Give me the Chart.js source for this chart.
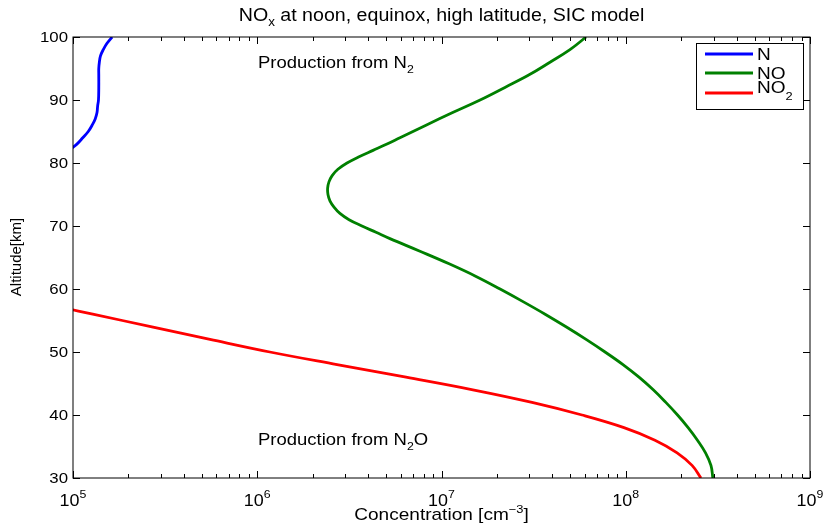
<!DOCTYPE html>
<html>
<head>
<meta charset="utf-8">
<script src="https://cdn.jsdelivr.net/npm/chart.js@4.4.1/dist/chart.umd.min.js"></script>
<style>
  body { margin: 0; background: #fff; }
  #grafico { display: block; }
</style>
</head>
<body>
<canvas id="grafico" width="827" height="524"></canvas>
<script>
// Datos: altitud [km] y concentracion [cm^-3]
const altN = [82, 83, 84, 85, 86, 87, 88, 89, 90, 92, 94, 95, 96, 97, 98, 99, 100];
const concN = [9.5e4, 1.05e5, 1.13e5, 1.21e5, 1.27e5, 1.32e5, 1.35e5, 1.36e5, 1.375e5, 1.38e5, 1.38e5, 1.38e5, 1.39e5, 1.41e5, 1.46e5, 1.53e5, 1.63e5];

const altNO = [30, 32, 34, 36, 38, 40, 42, 44, 46, 48, 50, 52, 54, 56, 58, 60, 62, 64, 66, 68, 69, 70, 71, 72, 73, 74, 75, 76, 77, 78, 79, 80, 81, 82, 83, 84, 86, 88, 90, 92, 94, 96, 98, 100];
const concNO = [2.97e8, 2.90e8, 2.71e8, 2.45e8, 2.18e8, 1.91e8, 1.65e8, 1.41e8, 1.18e8, 9.66e7, 7.72e7, 6.09e7, 4.74e7, 3.65e7, 2.77e7, 2.08e7, 1.54e7, 1.10e7, 7.64e6, 5.25e6, 4.41e6, 3.70e6, 3.15e6, 2.81e6, 2.61e6, 2.48e6, 2.42e6, 2.41e6, 2.45e6, 2.55e6, 2.74e6, 3.07e6, 3.57e6, 4.25e6, 5.06e6, 5.95e6, 8.24e6, 1.15e7, 1.62e7, 2.21e7, 2.99e7, 3.88e7, 4.98e7, 6.09e7];

const altNO2 = [30, 32, 34, 36, 38, 40, 42, 44, 46, 48, 50, 52, 54, 56, 57];
const concNO2 = [2.56e8, 2.29e8, 1.90e8, 1.44e8, 9.78e7, 5.79e7, 3.10e7, 1.48e7, 6.42e6, 2.71e6, 1.17e6, 5.54e5, 2.68e5, 1.28e5, 8.94e4];

const yTicks = [30, 40, 50, 60, 70, 80, 90, 100];
const xExpTicks = [5, 6, 7, 8, 9];

const FONT = '"Liberation Sans", Arial, Helvetica, sans-serif';
const SX = 1.12; // la figura original esta algo estirada en horizontal

// texto con partes (subindices / superindices)
function dibujarTexto(ctx, partes, x, y, align, base) {
  ctx.textBaseline = base || 'alphabetic';
  ctx.textAlign = 'left';
  let total = 0;
  partes.forEach(p => {
    ctx.font = p.size + 'px ' + FONT;
    p.w = ctx.measureText(p.t).width * SX;
    total += p.w;
  });
  let cx = x;
  if (align === 'center') cx = x - total / 2;
  if (align === 'right') cx = x - total;
  partes.forEach(p => {
    ctx.font = p.size + 'px ' + FONT;
    ctx.save();
    ctx.translate(cx, y + (p.dy || 0));
    ctx.scale(SX, 1);
    ctx.fillText(p.t, 0, 0);
    ctx.restore();
    cx += p.w;
  });
}

const decoracion = {
  id: 'decoracion',
  afterDraw(chart) {
    const ctx = chart.ctx;
    const a = chart.chartArea;
    const xs = chart.scales.x;
    const ys = chart.scales.y;
    ctx.save();
    ctx.fillStyle = '#000';
    ctx.strokeStyle = '#000';
    ctx.lineWidth = 1;

    // caja
    ctx.strokeRect(a.left, a.top, a.right - a.left, a.bottom - a.top);

    // ticks y
    yTicks.forEach(v => {
      const py = Math.round(ys.getPixelForValue(v)) + 0.5;
      ctx.beginPath();
      ctx.moveTo(a.left, py); ctx.lineTo(a.left + 7, py);
      ctx.moveTo(a.right, py); ctx.lineTo(a.right - 7, py);
      ctx.stroke();
      dibujarTexto(ctx, [{ t: String(v), size: 15 }], a.left - 5, py, 'right', 'middle');
    });

    // ticks x (mayores y menores)
    xExpTicks.forEach((e, i) => {
      for (let m = 1; m <= 9; m++) {
        if (i === xExpTicks.length - 1 && m > 1) break;
        const px = Math.round(xs.getPixelForValue(m * Math.pow(10, e))) + 0.5;
        const len = m === 1 ? 7 : 4;
        ctx.beginPath();
        ctx.moveTo(px, a.bottom); ctx.lineTo(px, a.bottom - len);
        ctx.moveTo(px, a.top); ctx.lineTo(px, a.top + len);
        ctx.stroke();
      }
      const px = xs.getPixelForValue(Math.pow(10, e));
      dibujarTexto(ctx, [{ t: '10', size: 16 }, { t: String(e), size: 11, dy: -8 }], px, 506, 'center');
    });

    // titulo y etiquetas
    const cxPlot = (a.left + a.right) / 2;
    dibujarTexto(ctx, [{ t: 'NO', size: 17.5 }, { t: 'x', size: 12, dy: 5 }, { t: ' at noon, equinox, high latitude, SIC model', size: 17.5 }], cxPlot, 21, 'center');
    dibujarTexto(ctx, [{ t: 'Concentration [cm', size: 17 }, { t: '\u22123', size: 11.5, dy: -7 }, { t: ']', size: 17 }], cxPlot, 520, 'center');

    ctx.save();
    ctx.translate(21, 257);
    ctx.rotate(-Math.PI / 2);
    ctx.font = '15px ' + FONT;
    ctx.textAlign = 'center';
    ctx.textBaseline = 'alphabetic';
    ctx.fillText('Altitude[km]', 0, 0);
    ctx.restore();

    // anotaciones
    dibujarTexto(ctx, [{ t: 'Production from N', size: 16.5 }, { t: '2', size: 11, dy: 5 }], 258, 68, 'left');
    dibujarTexto(ctx, [{ t: 'Production from N', size: 16.5 }, { t: '2', size: 11, dy: 5 }, { t: 'O', size: 16.5 }], 258, 445, 'left');

    // leyenda
    const lx = 696, ly = 43, lw = 107, lh = 66;
    ctx.fillStyle = '#fff';
    ctx.fillRect(lx, ly, lw, lh);
    ctx.strokeRect(lx + 0.5, ly + 0.5, lw, lh);
    const entradas = [
      { y: 54, partes: [{ t: 'N', size: 17 }], tb: 60 },
      { y: 73, partes: [{ t: 'NO', size: 17 }], tb: 79 },
      { y: 93, partes: [{ t: 'NO', size: 17 }, { t: '2', size: 11.5, dy: 7 }], tb: 93 }
    ];
    entradas.forEach((en, i) => {
      ctx.strokeStyle = chart.data.datasets[i].borderColor;
      ctx.lineWidth = 2.8;
      ctx.beginPath();
      ctx.moveTo(705, en.y); ctx.lineTo(753, en.y);
      ctx.stroke();
      ctx.fillStyle = '#000';
      dibujarTexto(ctx, en.partes, 757, en.tb, 'left');
    });
    ctx.restore();
  }
};

function serie(alt, conc) {
  return alt.map((h, i) => ({ x: conc[i], y: h }));
}

const ctx = document.getElementById('grafico').getContext('2d');
new Chart(ctx, {
  type: 'scatter',
  data: {
    datasets: [
      { label: 'N', data: serie(altN, concN), borderColor: '#0000ff' },
      { label: 'NO', data: serie(altNO, concNO), borderColor: '#008000' },
      { label: 'NO2', data: serie(altNO2, concNO2), borderColor: '#ff0000' }
    ].map(d => Object.assign(d, {
      showLine: true,
      pointRadius: 0,
      borderWidth: 2.8,
      tension: 0.4,
      fill: false,
      clip: 0
    }))
  },
  options: {
    responsive: false,
    animation: false,
    layout: { padding: { left: 0, right: 17, top: 37, bottom: 0 } },
    plugins: { legend: { display: false }, tooltip: { enabled: false } },
    scales: {
      x: {
        type: 'logarithmic', min: 1e5, max: 1e9,
        grid: { display: false }, border: { display: false },
        ticks: { display: false },
        afterFit: s => { s.height = 46; }
      },
      y: {
        type: 'linear', min: 30, max: 100,
        grid: { display: false }, border: { display: false },
        ticks: { display: false },
        afterFit: s => { s.width = 73; }
      }
    }
  },
  plugins: [decoracion]
});
</script>
</body>
</html>
